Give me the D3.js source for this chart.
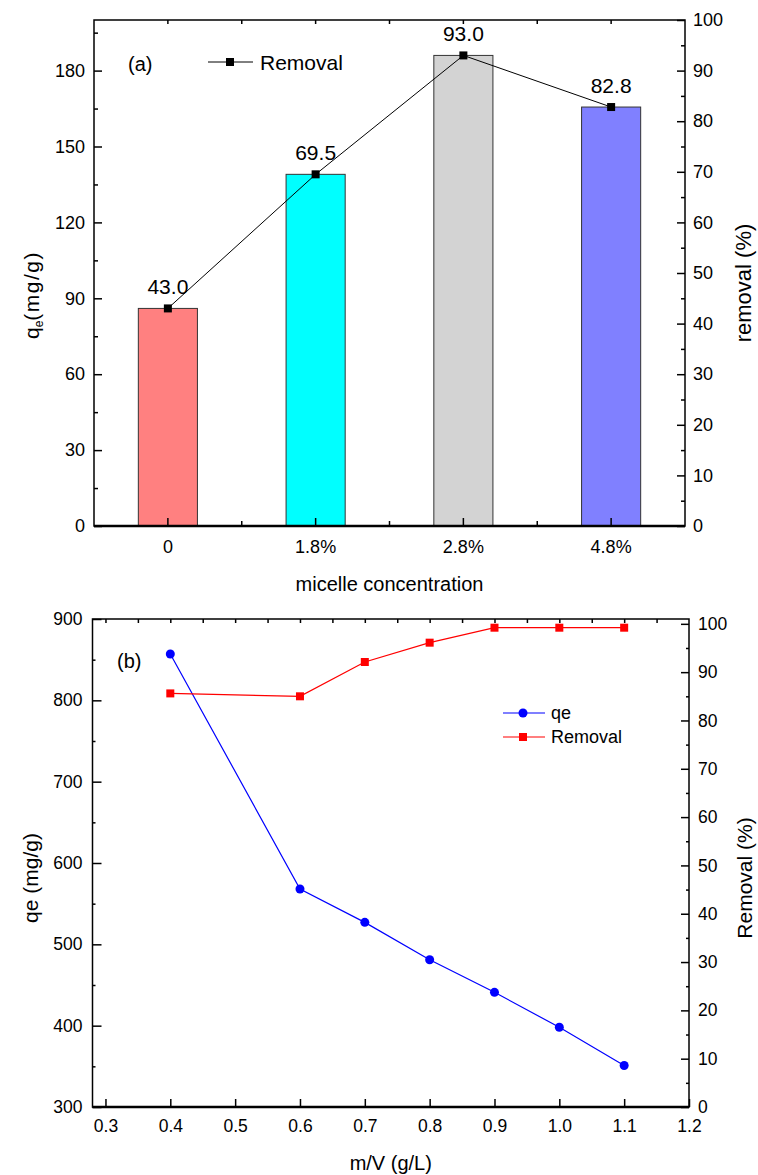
<!DOCTYPE html>
<html>
<head>
<meta charset="utf-8">
<script src="https://cdn.jsdelivr.net/npm/d3@7"></script>
<style>
  body { margin: 0; background: #fff; }
  svg text { font-family: "Liberation Sans", Arial, sans-serif; fill: #000; }
</style>
</head>
<body>
<div id="container"></div>
<script>
// (a) micelle concentration
const categories = ["0", "1.8%", "2.8%", "4.8%"];
const qeA = [86, 139, 186, 165.6];
const removalA = [43.0, 69.5, 93.0, 82.8];
const barColors = ["#FF8080", "#00FFFF", "#D3D3D3", "#8080FF"];
const leftTicksA = [0, 30, 60, 90, 120, 150, 180];
const leftMinorA = [15, 45, 75, 105, 135, 165, 195];
const rightTicksA = [0, 10, 20, 30, 40, 50, 60, 70, 80, 90, 100];
const rightMinorA = [5, 15, 25, 35, 45, 55, 65, 75, 85, 95];

// (b) m/V
const mv = [0.4, 0.6, 0.7, 0.8, 0.9, 1.0, 1.1];
const qeB = [857, 568, 527, 481, 441, 398, 351];
const removalB = [85.6, 85.0, 92.1, 96.1, 99.2, 99.2, 99.2];
const xTicksB = [0.3, 0.4, 0.5, 0.6, 0.7, 0.8, 0.9, 1.0, 1.1, 1.2];
const xTopTicksB = [0.3, 0.35, 0.4, 0.45, 0.5, 0.55, 0.6, 0.65, 0.7, 0.75, 0.8, 0.85, 0.9, 0.95, 1.0, 1.05, 1.1, 1.15];
const leftTicksB = [300, 400, 500, 600, 700, 800, 900];
const leftMinorB = [350, 450, 550, 650, 750, 850];
const rightTicksB = [0, 10, 20, 30, 40, 50, 60, 70, 80, 90, 100];
const rightMinorB = [5, 15, 25, 35, 45, 55, 65, 75, 85, 95];

const W = 758, H = 1175;
const svg = d3.select("#container").append("svg")
    .attr("width", W).attr("height", H);
svg.append("rect").attr("width", W).attr("height", H).attr("fill", "#fff");

function styleAxis(g, size) {
    g.select(".domain").remove();
    g.selectAll("line").attr("stroke", "#000").attr("stroke-width", 1.5);
    g.selectAll("text").style("font-size", size + "px").attr("fill", "#000");
}

// ---------- panel (a) ----------
const a = {left: 94, right: 685, top: 20, bottom: 526};

const x = d3.scaleBand().domain(categories).range([a.left, a.right]).padding(0);
const yL = d3.scaleLinear().domain([0, 200]).range([a.bottom, a.top]);
const yR = d3.scaleLinear().domain([0, 100]).range([a.bottom, a.top]);
const bw = x.bandwidth() * 0.4;

svg.append("g").selectAll("rect")
    .data(categories)
    .join("rect")
    .attr("x", d => x(d) + x.bandwidth() / 2 - bw / 2)
    .attr("y", (d, i) => yL(qeA[i]))
    .attr("width", bw)
    .attr("height", (d, i) => yL(0) - yL(qeA[i]))
    .attr("fill", (d, i) => barColors[i])
    .attr("stroke", "#333")
    .attr("stroke-width", 1);

const cx = d => x(d) + x.bandwidth() / 2;
const lineA = d3.line().x(d => cx(d.c)).y(d => yR(d.v));
const ptsA = categories.map((c, i) => ({c: c, v: removalA[i]}));
svg.append("path").datum(ptsA).attr("d", lineA)
    .attr("fill", "none").attr("stroke", "#000").attr("stroke-width", 1);
svg.append("g").selectAll("rect").data(ptsA).join("rect")
    .attr("x", d => cx(d.c) - 4).attr("y", d => yR(d.v) - 4)
    .attr("width", 8).attr("height", 8).attr("fill", "#000");
svg.append("g").selectAll("text").data(ptsA).join("text")
    .attr("x", d => cx(d.c)).attr("y", d => yR(d.v) - 14)
    .attr("text-anchor", "middle").style("font-size", "21px")
    .text(d => d.v.toFixed(1));

// axes (a)
svg.append("g").attr("transform", `translate(${a.left},0)`)
    .call(d3.axisLeft(yL).tickValues(leftTicksA).tickSize(-8).tickPadding(9))
    .call(g => styleAxis(g, 18));
svg.append("g").attr("transform", `translate(${a.left},0)`)
    .call(d3.axisLeft(yL).tickValues(leftMinorA).tickSize(-4).tickFormat(""))
    .call(g => styleAxis(g, 18));
svg.append("g").attr("transform", `translate(${a.right},0)`)
    .call(d3.axisRight(yR).tickValues(rightTicksA).tickSize(-8).tickPadding(8))
    .call(g => styleAxis(g, 18));
svg.append("g").attr("transform", `translate(${a.right},0)`)
    .call(d3.axisRight(yR).tickValues(rightMinorA).tickSize(-4).tickFormat(""))
    .call(g => styleAxis(g, 18));

const midA = categories.slice(1).map(c => x(c));
svg.append("g").attr("transform", `translate(0,${a.bottom})`)
    .call(d3.axisBottom(x).tickSize(-8).tickPadding(14))
    .call(g => styleAxis(g, 18));
svg.append("g").selectAll("line").data(midA).join("line")
    .attr("x1", d => d).attr("x2", d => d)
    .attr("y1", a.bottom).attr("y2", a.bottom - 5)
    .attr("stroke", "#000").attr("stroke-width", 1.5);
svg.append("g").selectAll("line").data(categories.map(cx).concat(midA)).join("line")
    .attr("x1", d => d).attr("x2", d => d)
    .attr("y1", a.top).attr("y2", a.top + 4)
    .attr("stroke", "#000").attr("stroke-width", 1.5);

svg.append("rect").attr("x", a.left).attr("y", a.top)
    .attr("width", a.right - a.left).attr("height", a.bottom - a.top)
    .attr("fill", "none").attr("stroke", "#000").attr("stroke-width", 1.5);
svg.append("line").attr("x1", a.left).attr("x2", a.right)
    .attr("y1", a.bottom).attr("y2", a.bottom)
    .attr("stroke", "#000").attr("stroke-width", 2.5);

// labels (a)
svg.append("text").attr("x", 128).attr("y", 71).style("font-size", "20px").text("(a)");
svg.append("line").attr("x1", 208).attr("x2", 253).attr("y1", 62).attr("y2", 62)
    .attr("stroke", "#000").attr("stroke-width", 1);
svg.append("rect").attr("x", 226).attr("y", 58).attr("width", 8).attr("height", 8).attr("fill", "#000");
svg.append("text").attr("x", 260).attr("y", 70).style("font-size", "21px").text("Removal");

const qLabel = svg.append("text")
    .attr("transform", "translate(39,295) rotate(-90)")
    .attr("text-anchor", "middle").style("font-size", "21px");
qLabel.append("tspan").text("q");
qLabel.append("tspan").attr("dy", 4).style("font-size", "12px").text("e");
qLabel.append("tspan").attr("dy", -4).style("letter-spacing", "1.5px").text("(mg/g)");

svg.append("text").attr("transform", "translate(751,283) rotate(-90)")
    .attr("text-anchor", "middle").style("font-size", "22px").text("removal (%)");
svg.append("text").attr("x", (a.left + a.right) / 2).attr("y", 591)
    .attr("text-anchor", "middle").style("font-size", "20px").text("micelle concentration");

// ---------- panel (b) ----------
const b = {left: 92.5, right: 689, top: 619, bottom: 1107};
const xB = d3.scaleLinear().domain([0.28, 1.2]).range([b.left, b.right]);
const yLB = d3.scaleLinear().domain([300, 900]).range([b.bottom, b.top]);
const yRB = d3.scaleLinear().domain([0, 101]).range([b.bottom, b.top]);

svg.append("g").attr("transform", `translate(0,${b.bottom})`)
    .call(d3.axisBottom(xB).tickValues(xTicksB).tickSize(-8).tickPadding(13).tickFormat(d3.format(".1f")))
    .call(g => styleAxis(g, 17.5));
svg.append("g").attr("transform", `translate(0,${b.top})`)
    .call(d3.axisTop(xB).tickValues(xTopTicksB).tickSize(-4).tickFormat(""))
    .call(g => styleAxis(g, 17.5));
svg.append("g").attr("transform", `translate(${b.left},0)`)
    .call(d3.axisLeft(yLB).tickValues(leftTicksB).tickSize(-9).tickPadding(10))
    .call(g => styleAxis(g, 17.5));
svg.append("g").attr("transform", `translate(${b.left},0)`)
    .call(d3.axisLeft(yLB).tickValues(leftMinorB).tickSize(-3).tickFormat(""))
    .call(g => styleAxis(g, 17.5));
svg.append("g").attr("transform", `translate(${b.right},0)`)
    .call(d3.axisRight(yRB).tickValues(rightTicksB).tickSize(-8).tickPadding(9))
    .call(g => styleAxis(g, 17.5));
svg.append("g").attr("transform", `translate(${b.right},0)`)
    .call(d3.axisRight(yRB).tickValues(rightMinorB).tickSize(-3).tickFormat(""))
    .call(g => styleAxis(g, 17.5));

svg.append("rect").attr("x", b.left).attr("y", b.top)
    .attr("width", b.right - b.left).attr("height", b.bottom - b.top)
    .attr("fill", "none").attr("stroke", "#000").attr("stroke-width", 1.5);
svg.append("line").attr("x1", b.left).attr("x2", b.right)
    .attr("y1", b.bottom).attr("y2", b.bottom)
    .attr("stroke", "#000").attr("stroke-width", 2.5);

const qePts = mv.map((m, i) => ({m: m, v: qeB[i]}));
const remPts = mv.map((m, i) => ({m: m, v: removalB[i]}));

svg.append("path").datum(qePts)
    .attr("d", d3.line().x(d => xB(d.m)).y(d => yLB(d.v)))
    .attr("fill", "none").attr("stroke", "#0000FF").attr("stroke-width", 1.2);
svg.append("path").datum(remPts)
    .attr("d", d3.line().x(d => xB(d.m)).y(d => yRB(d.v)))
    .attr("fill", "none").attr("stroke", "#FF0000").attr("stroke-width", 1.2);
svg.append("g").selectAll("circle").data(qePts).join("circle")
    .attr("cx", d => xB(d.m)).attr("cy", d => yLB(d.v)).attr("r", 4.5)
    .attr("fill", "#0000FF");
svg.append("g").selectAll("rect").data(remPts).join("rect")
    .attr("x", d => xB(d.m) - 4).attr("y", d => yRB(d.v) - 4)
    .attr("width", 8).attr("height", 8).attr("fill", "#FF0000");

// legend (b)
svg.append("text").attr("x", 117).attr("y", 668).style("font-size", "20px").text("(b)");
svg.append("line").attr("x1", 503).attr("x2", 545).attr("y1", 713).attr("y2", 713)
    .attr("stroke", "#0000FF").attr("stroke-width", 1.2);
svg.append("circle").attr("cx", 523).attr("cy", 713).attr("r", 4.5).attr("fill", "#0000FF");
svg.append("text").attr("x", 551).attr("y", 719).style("font-size", "18px").text("qe");
svg.append("line").attr("x1", 503).attr("x2", 545).attr("y1", 737).attr("y2", 737)
    .attr("stroke", "#FF0000").attr("stroke-width", 1.2);
svg.append("rect").attr("x", 519).attr("y", 733).attr("width", 8).attr("height", 8).attr("fill", "#FF0000");
svg.append("text").attr("x", 551).attr("y", 743).style("font-size", "18px").text("Removal");

svg.append("text").attr("transform", "translate(38,878) rotate(-90)")
    .attr("text-anchor", "middle").style("font-size", "21px").text("qe (mg/g)");
svg.append("text").attr("transform", "translate(752,878) rotate(-90)")
    .attr("text-anchor", "middle").style("font-size", "21px").text("Removal (%)");
svg.append("text").attr("x", (b.left + b.right) / 2).attr("y", 1170)
    .attr("text-anchor", "middle").style("font-size", "20px").text("m/V (g/L)");
</script>
</body>
</html>
